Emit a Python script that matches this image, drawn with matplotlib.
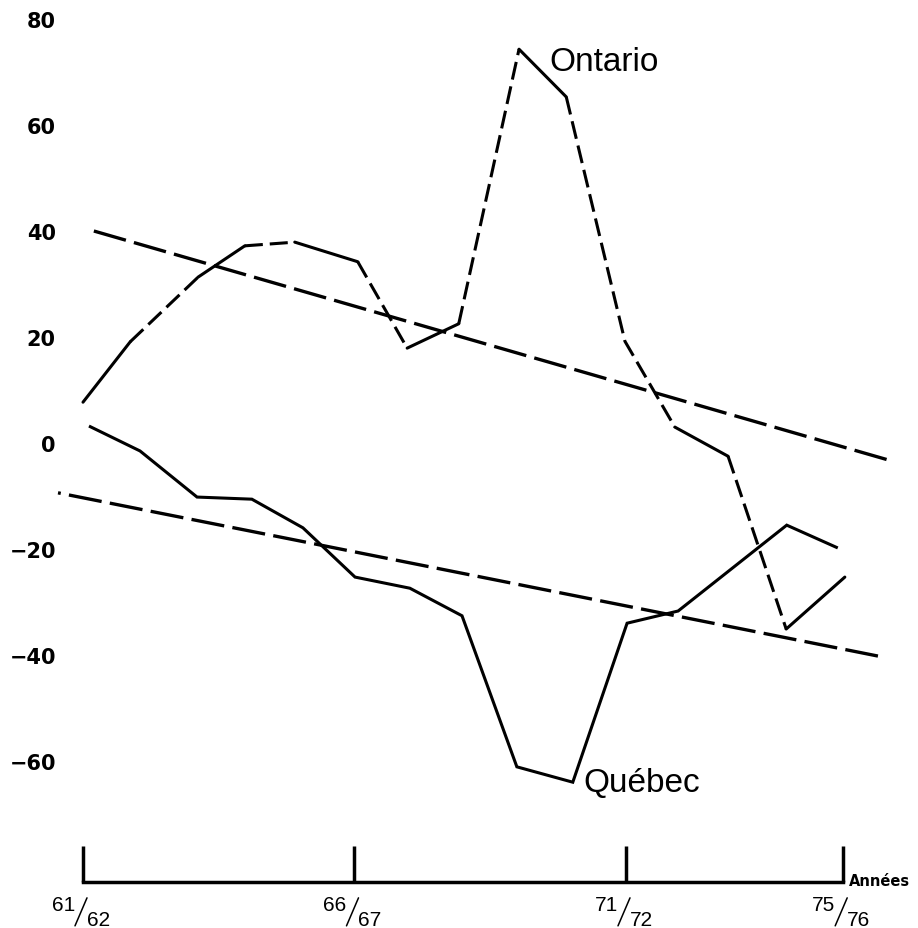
import matplotlib
matplotlib.use("Agg")
import matplotlib.pyplot as plt
from matplotlib.transforms import blended_transform_factory, offset_copy

plt.rcParams["font.family"] = ["Liberation Sans", "DejaVu Sans"]
plt.rcParams["lines.scale_dashes"] = False

# x = années depuis 61/62
ontario_x = [0.00, 0.87, 2.12, 2.98, 3.90, 5.06, 5.97, 6.92, 8.03, 8.90, 9.98, 10.90, 11.88, 12.95, 14.03]
ontario_y = [7.7, 19.1, 31.3, 37.2, 37.9, 34.2, 17.9, 22.5, 74.3, 65.3, 19.2, 3.0, -2.5, -35.1, -25.3]
quebec_x = [0.11, 0.63, 1.05, 2.10, 3.11, 4.05, 5.01, 6.02, 6.98, 7.99, 9.02, 10.02, 10.96, 12.96, 13.90]
quebec_y = [3.2, 0.6, -1.5, -10.2, -10.6, -16.0, -25.3, -27.4, -32.6, -61.1, -64.0, -34.0, -31.7, -15.5, -19.8]

# droites de tendance
ontario_trend_x = [0.20, 14.83]
ontario_trend_y = [40.0, -3.2]
quebec_trend_x = [-0.46, 14.64]
quebec_trend_y = [-9.4, -40.2]

year_ticks = [0, 5, 10, 14]
year_num = ["61", "66", "71", "75"]
year_den = ["62", "67", "72", "76"]
y_ticks = [-60, -40, -20, 0, 20, 40, 60, 80]
y_labels = ["\u221260", "\u221240", "\u221220", "0", "20", "40", "60", "80"]

# trait plein / tirets pour chaque segment de la courbe Ontario
ontario_dashed = [0, 1, 0, 1, 0, 1, 0, 1, 0, 1, 1, 0, 1, 0]

W, H = 918, 929
x0_px, px_year = 83, 54.3
y0_px, px_unit = 444, 5.3
xlim = (-0.5, 15.2)
ylim = (-82.8, 82)

fig = plt.figure(figsize=(W / 100, H / 100), dpi=100)
left = x0_px + xlim[0] * px_year
right = x0_px + xlim[1] * px_year
top = y0_px - ylim[1] * px_unit
bottom = y0_px - ylim[0] * px_unit
ax = fig.add_axes([left / W, 1 - bottom / H, (right - left) / W, (bottom - top) / H])
ax.set_xlim(*xlim)
ax.set_ylim(*ylim)

lw = 2.2

# Ontario: on regroupe les segments de même style
i = 0
while i < len(ontario_dashed):
    j = i
    while j + 1 < len(ontario_dashed) and ontario_dashed[j + 1] == ontario_dashed[i]:
        j += 1
    style = (0, (13, 5)) if ontario_dashed[i] else "-"
    ax.plot(ontario_x[i:j + 2], ontario_y[i:j + 2], color="black", lw=lw,
            linestyle=style, solid_capstyle="round", dash_capstyle="butt",
            clip_on=False)
    i = j + 1

ax.plot(quebec_x, quebec_y, color="black", lw=lw, solid_joinstyle="miter",
        solid_capstyle="butt", clip_on=False)

ax.plot(ontario_trend_x, ontario_trend_y, color="black", lw=2.4,
        linestyle=(0, (24, 6)), dash_capstyle="butt", clip_on=False)
ax.plot(quebec_trend_x, quebec_trend_y, color="black", lw=2.4,
        linestyle=(22, (24, 6)), dash_capstyle="butt", clip_on=False)

ax.text(8.59, 70.3, "Ontario", fontsize=24, ha="left", va="baseline")
ax.text(9.21, -65.7, "Québec", fontsize=24, ha="left", va="baseline")

# axes
for side in ["top", "right", "left"]:
    ax.spines[side].set_visible(False)
ax.spines["bottom"].set_bounds(year_ticks[0], year_ticks[-1])
ax.spines["bottom"].set_linewidth(2.5)

ax.set_yticks(y_ticks)
ax.set_yticklabels(y_labels, fontfamily="DejaVu Sans", fontweight="bold", fontsize=15)
ax.tick_params(axis="y", length=0, pad=0)

ax.set_xticks(year_ticks)
ax.set_xticklabels([""] * len(year_ticks))
ax.tick_params(axis="x", direction="in", length=26, width=2.5)

# étiquettes des années en fraction  61/62
base = blended_transform_factory(ax.transData, ax.transAxes)
for t, num, den in zip(year_ticks, year_num, year_den):
    ax.annotate(num, xy=(t, 0), xycoords=base,
                xytext=(-8, -28), textcoords="offset pixels",
                ha="right", va="baseline", fontsize=15)
    ax.annotate(den, xy=(t, 0), xycoords=base,
                xytext=(4, -43), textcoords="offset pixels",
                ha="left", va="baseline", fontsize=15)
    ax.annotate("", xy=(t, 0),
                xycoords=offset_copy(base, fig=fig, x=4, y=-16, units="dots"),
                xytext=(t, 0),
                textcoords=offset_copy(base, fig=fig, x=-8, y=-44, units="dots"),
                arrowprops=dict(arrowstyle="-", lw=1.1, color="black",
                                shrinkA=0, shrinkB=0))

ax.annotate("Années", xy=(year_ticks[-1], 0), xycoords=base,
            xytext=(6, -3), textcoords="offset pixels",
            ha="left", va="baseline", fontsize=10.5,
            fontfamily="DejaVu Sans", fontweight="bold")

fig.savefig("out.png", dpi=100)
